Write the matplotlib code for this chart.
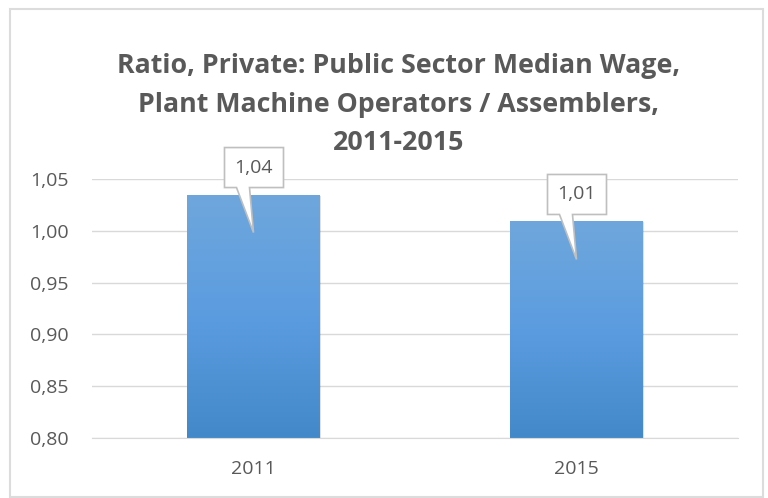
import numpy as np
import matplotlib.pyplot as plt
from matplotlib.patches import Polygon, Rectangle
from matplotlib.transforms import ScaledTranslation, IdentityTransform
from matplotlib.ticker import FuncFormatter
from matplotlib.colors import LinearSegmentedColormap

plt.rcParams['font.family'] = ['Open Sans', 'DejaVu Sans']

years = ['2011', '2015']
ratio = [1.035, 1.009]
labels = ['1,04', '1,01']

title_lines = ['Ratio, Private: Public Sector Median Wage,',
               'Plant Machine Operators / Assemblers,',
               '2011-2015']
grey = '#595959'

fig = plt.figure(figsize=(7.68, 4.98), dpi=100)
ax = fig.add_axes([92 / 768, 60 / 498, 646 / 768, 259 / 498])

x = np.arange(len(years))
bars = ax.bar(x, [r - 0.8 for r in ratio], bottom=0.8, width=0.41, color='none', zorder=3)

# gradient fill, lighter at the top
grad = np.linspace(0, 1, 256).reshape(-1, 1)
cmap = LinearSegmentedColormap.from_list('bar', ['#4389c9', '#5b9ce0', '#6fa7dc'])
for b in bars:
    x0, y0 = b.get_x(), b.get_y()
    w, h = b.get_width(), b.get_height()
    sh = Rectangle((x0, y0), w, h, facecolor='#000000', alpha=0.12, edgecolor='none',
                   transform=ax.transData + ScaledTranslation(0.015, -0.01, fig.dpi_scale_trans),
                   zorder=2)
    ax.add_patch(sh)
    im = ax.imshow(grad, extent=[x0, x0 + w, y0, y0 + h], origin='lower', cmap=cmap,
                   aspect='auto', zorder=3)
    im.set_clip_path(b)

ax.set_xlim(-0.5, 1.5)
ax.set_ylim(0.8, 1.05)
ax.set_yticks(np.arange(0.80, 1.051, 0.05))
ax.yaxis.set_major_formatter(FuncFormatter(lambda v, p: f'{v:.2f}'.replace('.', ',')))
ax.set_xticks(x)
ax.set_xticklabels(years)
ax.tick_params(axis='both', length=0, colors=grey, labelsize=14)
ax.tick_params(axis='y', pad=17)
ax.tick_params(axis='x', pad=16)
ax.grid(axis='y', color='#d9d9d9', linewidth=1, zorder=0)
for s in ['top', 'right', 'left']:
    ax.spines[s].set_visible(False)
ax.spines['bottom'].set_color('#d9d9d9')
ax.spines['bottom'].set_zorder(4)

# callout labels, shape in pixels relative to the top of each bar
shape = np.array([(-29, 7), (-17, 7), (0, -38), (-4, 7), (30, 7), (30, 47), (-29, 47)], float)
for xi, r, lab in zip(x, ratio, labels):
    px, py = ax.transData.transform((xi, r))
    poly = Polygon(shape + np.array([px, py]), closed=True, facecolor='white',
                   edgecolor='#bfbfbf', linewidth=1.2, transform=IdentityTransform(),
                   zorder=5)
    fig.patches.append(poly)
    fig.text(px / 768, (py + 27) / 498, lab, ha='center', va='center', fontsize=14,
             color=grey, zorder=6)

# title, one line at a time (baselines in pixels from the top)
for line, yb in zip(title_lines, [73, 112, 150]):
    fig.text(399 / 768, 1 - yb / 498, line, ha='center', va='baseline', fontsize=19.3,
             fontweight='bold', color=grey)

border = Rectangle((10 / 768, 1 / 498), 753 / 768, 488 / 498, transform=fig.transFigure,
                   facecolor='none', edgecolor='#dcdcdc', linewidth=1.5)
fig.patches.append(border)

fig.savefig('out.png', dpi=100)
